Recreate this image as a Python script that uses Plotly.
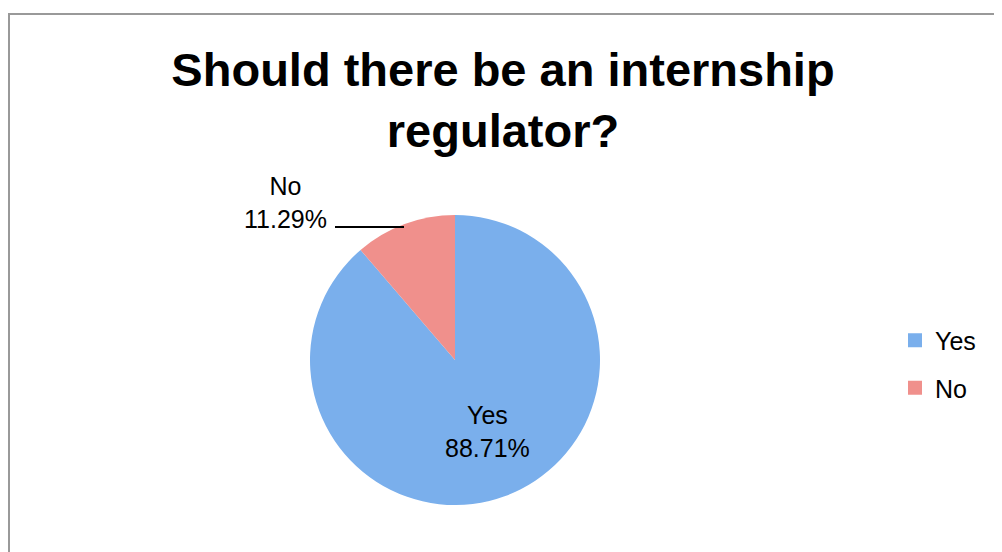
import plotly.graph_objects as go

labels = ["Yes", "No"]
values = [88.71, 11.29]
colors = ["#7aafec", "#f0908c"]

# the page body adds an 8px margin, so the figure is 8px smaller than the window
W, H = 994, 544
FONT = "Liberation Sans, Arial, Helvetica, sans-serif"

fig = go.Figure()
fig.add_trace(go.Pie(
    labels=labels, values=values, sort=False, direction="clockwise", rotation=0,
    marker=dict(colors=colors, line=dict(width=0)),
    textinfo="none", hoverinfo="label+percent", showlegend=False,
    domain=dict(x=[302 / W, 592 / W], y=[1 - 497 / H, 1 - 207 / H]),
))

# legend entries (square swatches, spaced like the original)
for lab, col in zip(labels, colors):
    fig.add_trace(go.Scatter(
        x=[None], y=[None], mode="markers", name=lab, legendgroup=lab,
        marker=dict(symbol="square", size=14, color=col), hoverinfo="skip",
    ))

# data labels
fig.add_annotation(x=479 / W, y=1 - 423 / H, xref="paper", yref="paper",
                   xanchor="center", yanchor="middle",
                   text=f"{labels[0]}<br>{values[0]:.2f}%", showarrow=False,
                   font=dict(size=25, color="#000", family=FONT))
fig.add_annotation(x=277 / W, y=1 - 195 / H, xref="paper", yref="paper",
                   xanchor="center", yanchor="middle",
                   text=f"{labels[1]}<br>{values[1]:.2f}%", showarrow=False,
                   font=dict(size=25, color="#000", family=FONT))
fig.add_shape(type="line", xref="paper", yref="paper",
              x0=327 / W, x1=396 / W, y0=1 - 219 / H, y1=1 - 219 / H,
              line=dict(color="#000", width=2))

# frame
fig.add_shape(type="rect", xref="paper", yref="paper",
              x0=1 / W, x1=1.02, y0=-0.02, y1=1 - 6 / H,
              line=dict(color="#999999", width=2), fillcolor="rgba(0,0,0,0)")

fig.update_layout(
    width=W, height=H,
    margin=dict(l=0, r=0, t=0, b=0),
    paper_bgcolor="white", plot_bgcolor="white",
    xaxis=dict(visible=False), yaxis=dict(visible=False),
    title=dict(text="<b>Should there be an internship<br>regulator?</b>",
               x=495 / W, xanchor="center", y=1 - 78 / H, yanchor="middle",
               font=dict(size=47, color="#000", family=FONT)),
    legend=dict(x=887 / W, xanchor="left", y=1 - 356 / H, yanchor="middle",
                font=dict(size=25, color="#000", family=FONT),
                tracegroupgap=12, bgcolor="rgba(0,0,0,0)"),
)

fig.write_html("out.html")
